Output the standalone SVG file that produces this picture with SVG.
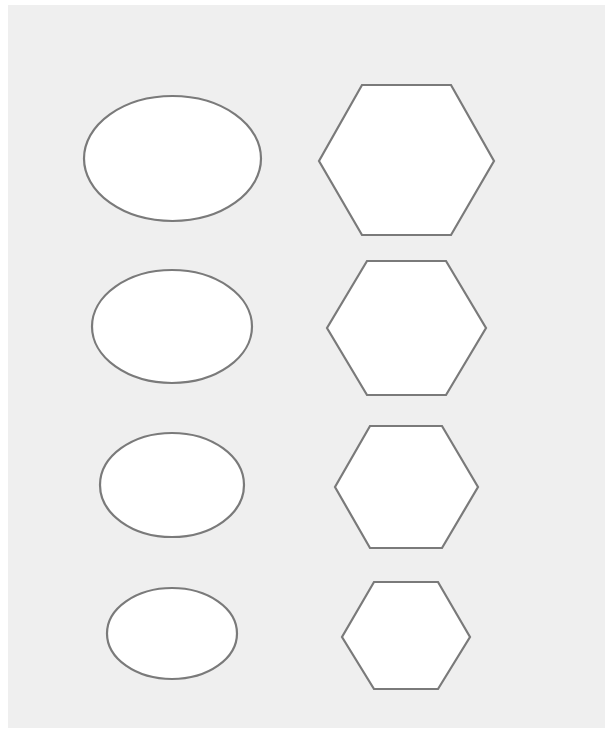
<svg xmlns="http://www.w3.org/2000/svg" width="605" height="731" viewBox="0 0 605 731">
<style>
.shape{fill:#ffffff;stroke:#7a7a7a;stroke-width:2.2}
</style>
<rect x="0" y="0" width="605" height="731" fill="#ffffff"/>
<rect x="8" y="5" width="597" height="723" fill="#efefef"/>
<g id="nodes">
<g id="ellipse1"><ellipse class="shape" cx="172.5" cy="158.5" rx="88.5" ry="62.5"/></g>
<g id="ellipse2"><ellipse class="shape" cx="172" cy="326.5" rx="80" ry="56.5"/></g>
<g id="ellipse3"><ellipse class="shape" cx="172" cy="485" rx="72" ry="52"/></g>
<g id="ellipse4"><ellipse class="shape" cx="172" cy="633.5" rx="65" ry="45.5"/></g>
<g id="hexagon1"><polygon class="shape" points="362,85 451,85 494,161 451,235 362,235 319,161"/></g>
<g id="hexagon2"><polygon class="shape" points="367,261 446,261 486,328 446,395 367,395 327,328"/></g>
<g id="hexagon3"><polygon class="shape" points="370,426 442,426 478,487 442,548 370,548 335,487"/></g>
<g id="hexagon4"><polygon class="shape" points="374,582 438,582 470,637 438,689 374,689 342,637"/></g>
</g>
<g id="connectors"></g>
</svg>
